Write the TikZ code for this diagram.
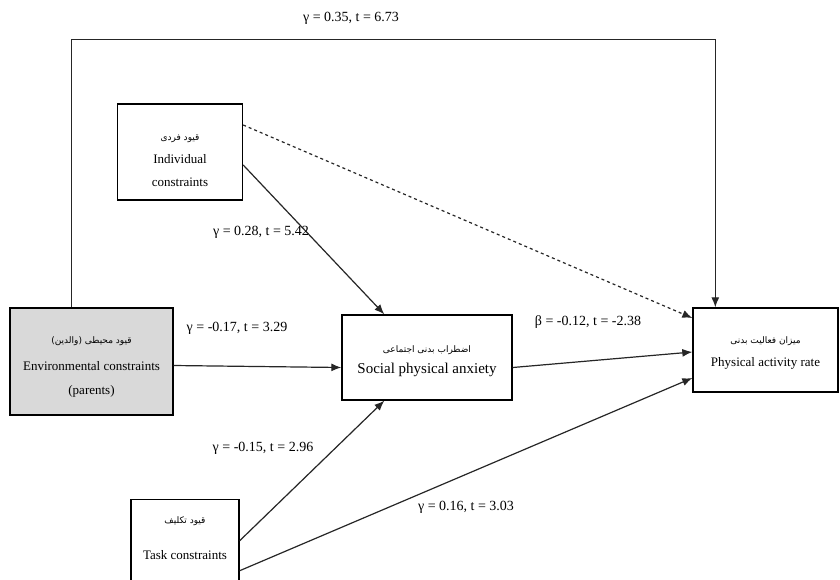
\documentclass[tikz,border=0pt]{standalone}
\usepackage{fontspec}
\setmainfont{Liberation Serif}
\newfontfamily\arabicfont[Script=Arabic]{DejaVu Sans}
\TeXXeTstate=1
\usetikzlibrary{calc,arrows.meta}
\definecolor{envgray}{HTML}{D9D9D9}
\tikzset{
  box/.style={draw=black, line width=1.4pt, inner sep=0pt},
  txt/.style={align=center, inner sep=0pt, font=\fontsize{13}{23}\selectfont},
  conn/.style={line width=1.2pt, draw=black!85, -{Latex[length=10pt,width=8pt]}},
  lab/.style={font=\fontsize{14}{16}\selectfont, inner sep=1pt}
}
\newcommand{\fa}[1]{{\arabicfont\fontsize{9}{10}\selectfont\beginR #1\endR}}
\begin{document}
\begin{tikzpicture}[x=1pt,y=-1pt]
\useasboundingbox (0,0) rectangle (840,579);
\clip (0,0) rectangle (840,579);
\fill[white] (0,0) rectangle (840,579);

% boxes
\node[box, minimum width=125pt, minimum height=96pt] (ind) at (180,152) {};
\node[box, fill=envgray, minimum width=163pt, minimum height=107pt] (env) at (91.5,361.5) {};
\node[box, minimum width=170pt, minimum height=85pt] (soc) at (427,357.5) {};
\node[box, minimum width=145pt, minimum height=84pt] (phys) at (765.5,350) {};
\node[box, minimum width=108pt, minimum height=86pt, anchor=north] (task) at (185,499) {};

% box texts
\node[txt] (indt) at ($(ind.center)+(0,9)$) {\fa{قیود فردی}\\Individual\\constraints};
\node[txt, font=\fontsize{13}{27}\selectfont] (envt) at ($(env.center)+(0,5)$) {\fa{قیود محیطی (والدین)}\\Environmental constraints\\[-3pt](parents)};
\node[txt, font=\fontsize{15}{21}\selectfont] (soct) at ($(soc.center)+(0,4)$) {\fa{اضطراب بدنی اجتماعی}\\Social physical anxiety};
\node[txt] (physt) at ($(phys.center)+(0,3)$) {\fa{میزان فعالیت بدنی}\\Physical activity rate};
\node[txt, font=\fontsize{13}{36}\selectfont] (taskt) at ($(task.north)+(0,39)$) {\fa{قیود تکلیف}\\Task constraints};

% connectors
\draw[conn] ($(env.north west)+(62,0)$) -- ++(0,-268) -| ($(phys.north west)+(23,0)$);
\draw[conn, dashed] ($(ind.east)+(0,-27)$) -- ($(phys.west)+(0,-32)$);
\draw[conn] ($(ind.east)+(0,13)$) -- ($(soc.north west)+(43,0)$);
\draw[conn] ($(env.east)+(0,4)$) -- ($(soc.west)+(0,10)$);
\draw[conn] ($(soc.east)+(0,10)$) -- ($(phys.west)+(0,2)$);
\draw[conn] ($(task.east)+(0,-2)$) -- ($(soc.south west)+(43,0)$);
\draw[conn] ($(task.east)+(0,28)$) -- ($(phys.west)+(0,28)$);

% labels
\node[lab] (l1) at (351,18) {γ = 0.35, t = 6.73};
\node[lab] (l2) at (261,232) {γ = 0.28, t = 5.42};
\node[lab] (l3) at (237,328) {γ = -0.17, t = 3.29};
\node[lab] (l4) at (588,322) {β = -0.12, t = -2.38};
\node[lab] (l5) at (263,448) {γ = -0.15, t = 2.96};
\node[lab] (l6) at (466,507) {γ = 0.16, t = 3.03};
\end{tikzpicture}
\end{document}
